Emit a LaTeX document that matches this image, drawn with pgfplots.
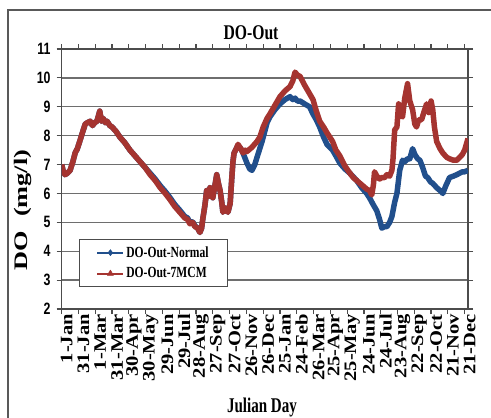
\documentclass[border=0pt]{standalone}
\usepackage{graphicx}
\usepackage{fontspec}
\setmainfont{Liberation Serif}
\newfontfamily\arialf{Liberation Sans}
\usepackage{pgfplots}
\usepackage{pgfplotstable}
\pgfplotsset{compat=1.18}

\definecolor{doblue}{RGB}{33,79,140}
\definecolor{dored}{RGB}{165,52,48}
\definecolor{gridc}{RGB}{110,110,110}

% narrow horizontal text / rotated date labels
\newcommand\nar[1]{\scalebox{0.75}[1]{#1}}
\newcommand\sq[1]{\scalebox{1.03}[0.88]{\fontsize{20}{20}\selectfont\bfseries #1}}

% Julian day (0 = 1-Jan of first year) vs dissolved oxygen, mg/l
\pgfplotstableread{
day do
0 7.0
3 6.75
6 6.65
10 6.7
15 6.8
20 7.1
24 7.4
28 7.55
33 7.85
37 8.1
42 8.4
46 8.45
51 8.5
55 8.35
59 8.45
63 8.5
68 8.85
71 8.5
74 8.6
78 8.45
81 8.5
86 8.35
90 8.3
97 8.15
104 7.95
113 7.75
122 7.5
131 7.3
140 7.1
149 6.9
158 6.7
167 6.5
176 6.27
185 6.07
193 5.87
202 5.62
211 5.42
220 5.2
225 5.15
229 5.0
234 5.02
238 4.88
243 4.8
247 4.65
250 4.8
252 5.1
256 5.6
259 6.1
262 5.9
265 6.2
268 5.95
270 5.85
274 6.3
277 6.65
280 6.35
283 6.1
286 5.7
288 5.35
292 5.5
297 5.35
301 5.65
304 6.55
306 7.1
308 7.4
312 7.55
315 7.65
320 7.55
324 7.4
328 7.2
331 7.05
336 6.85
340 6.8
345 7.0
349 7.25
358 7.8
367 8.45
372 8.65
381 8.9
390 9.1
399 9.25
408 9.35
413 9.25
417 9.3
421 9.2
426 9.2
434 9.1
443 9.0
449 8.75
455 8.55
461 8.3
468 7.95
474 7.7
484 7.5
490 7.3
497 7.05
506 6.85
515 6.7
527 6.45
536 6.2
545 6.0
550 5.85
557 5.6
563 5.4
568 5.1
572 4.8
577 4.85
581 4.85
586 5.0
590 5.2
595 5.7
599 6.0
604 6.8
609 7.15
613 7.1
618 7.2
622 7.2
627 7.55
631 7.35
636 7.2
640 7.15
645 6.9
650 6.6
654 6.55
659 6.4
663 6.35
670 6.2
676 6.1
681 6.0
686 6.25
693 6.55
700 6.6
706 6.65
711 6.7
716 6.75
720 6.75
726 6.8
}\normaldata

\pgfplotstableread{
day do
0 7.0
3 6.75
6 6.65
10 6.7
15 6.8
20 7.1
24 7.4
28 7.55
33 7.85
37 8.1
42 8.4
46 8.45
51 8.5
55 8.35
59 8.45
63 8.5
68 8.85
71 8.5
74 8.6
78 8.45
81 8.5
86 8.35
90 8.3
97 8.15
104 7.95
113 7.75
122 7.5
131 7.3
140 7.1
149 6.9
158 6.65
167 6.45
176 6.2
185 6.0
193 5.8
202 5.55
211 5.35
220 5.15
225 5.1
229 4.95
234 5.0
238 4.85
243 4.8
247 4.65
250 4.8
252 5.1
256 5.6
259 6.1
262 5.9
265 6.2
268 5.95
270 5.85
274 6.3
277 6.65
280 6.35
283 6.1
286 5.7
288 5.35
292 5.5
297 5.35
301 5.65
304 6.55
306 7.1
308 7.4
312 7.55
315 7.7
320 7.55
324 7.4
328 7.5
331 7.45
340 7.6
349 7.8
354 7.95
360 8.3
367 8.6
372 8.75
381 9.05
390 9.35
399 9.55
408 9.7
413 9.9
417 10.2
421 10.1
426 10.05
434 9.75
443 9.45
449 9.25
455 8.85
461 8.5
468 8.3
474 8.1
479 7.95
484 7.8
490 7.5
497 7.3
506 6.95
515 6.7
521 6.55
527 6.45
536 6.3
545 6.15
550 6.1
554 5.95
557 6.3
559 6.75
563 6.6
568 6.5
572 6.55
577 6.55
581 6.65
586 6.6
590 6.8
592 7.2
595 8.2
599 8.3
602 9.1
606 8.7
609 8.65
613 9.3
618 9.8
622 9.2
627 8.9
631 8.4
634 8.3
638 8.55
643 8.55
647 8.8
652 9.1
656 8.8
660 9.2
663 8.9
666 8.3
670 7.8
676 7.55
681 7.4
688 7.25
693 7.2
700 7.15
706 7.15
711 7.25
716 7.35
720 7.5
726 7.9
}\mcmdata

\begin{document}
\begin{tikzpicture}
% outer chart frame
\draw[black!65, line width=1.3bp] (-53.7bp,-140bp) -- (-53.7bp,299bp) -- (460bp,299bp);

\begin{axis}[
  name=ax,
  at={(0,0)}, anchor=south west,
  scale only axis,
  width=406.3bp, height=260bp,
  xmin=0, xmax=726,
  ymin=2, ymax=11,
  axis line style={black!70, line width=1.3bp},
  tick style={black!70, line width=1.2bp},
  tick align=outside,
  major tick length=5bp,
  xtick={0,30,...,720},
  xticklabels={\sq{1-Jan},\sq{31-Jan},\sq{1-Mar},\sq{31-Mar},\sq{30-Apr},\sq{30-May},\sq{29-Jun},\sq{29-Jul},\sq{28-Aug},\sq{27-Sep},\sq{27-Oct},\sq{26-Nov},\sq{26-Dec},\sq{25-Jan},\sq{24-Feb},\sq{26-Mar},\sq{25-Apr},\sq{25-May},\sq{24-Jun},\sq{24-Jul},\sq{23-Aug},\sq{22-Sep},\sq{22-Oct},\sq{21-Nov},\sq{21-Dec}},
  xticklabel style={rotate=90, anchor=east, inner sep=0pt, yshift=-5bp},
  ytick={2,...,11},
  yticklabels={\nar{2},\nar{3},\nar{4},\nar{5},\nar{6},\nar{7},\nar{8},\nar{9},\nar{10},\nar{11}},
  yticklabel style={anchor=east, inner sep=0pt, xshift=-6bp,
    font=\arialf\fontsize{16.5}{16.5}\selectfont\bfseries},
  ymajorgrids,
  grid style={gridc, line width=1.3bp},
  legend style={at={(rel axis cs:0.0426,0.269)}, anchor=north west,
    draw=black!70, line width=1bp, fill=white,
    font=\fontsize{15.5}{15.5}\selectfont\bfseries,
    inner xsep=17bp, inner ysep=5bp, row sep=5bp,
    nodes={inner sep=2bp}},
  legend cell align=left,
  legend image code/.code={
    \draw[#1, line width=1.8bp, mark repeat=2, mark phase=2]
      plot coordinates {(0bp,0bp) (13bp,0bp) (26bp,0bp)};},
]
\addplot[doblue, line width=5.5bp, line join=round,
  mark=diamond*, mark size=3bp, mark phase=100000,
  mark options={solid, fill=doblue, line width=0.5bp}]
  table[x=day, y=do] {\normaldata};
\addlegendentry{\nar{DO-Out-Normal}}
\addplot[dored, line width=5.5bp, line join=round,
  mark=triangle*, mark size=3.6bp, mark phase=100000,
  mark options={solid, fill=dored, line width=0.5bp}]
  table[x=day, y=do] {\mcmdata};
\addlegendentry{\nar{DO-Out-7MCM}}
\end{axis}

% titles
\node[anchor=base, font=\fontsize{21}{21}\selectfont\bfseries]
  at (189.3bp,269bp) {\nar{DO-Out}};
\node[anchor=base, font=\fontsize{21}{21}\selectfont\bfseries]
  at (200.3bp,-103bp) {\scalebox{0.72}[1]{Julian Day}};
\node[rotate=90, anchor=center, font=\fontsize{24}{24}\selectfont\bfseries]
  at (-38.7bp,99bp) {\scalebox{1.1}[0.8]{DO\; (mg/l)}};

\pgfresetboundingbox
\useasboundingbox (-61.7bp,-109bp) rectangle (429.3bp,309bp);
\end{tikzpicture}
\end{document}
